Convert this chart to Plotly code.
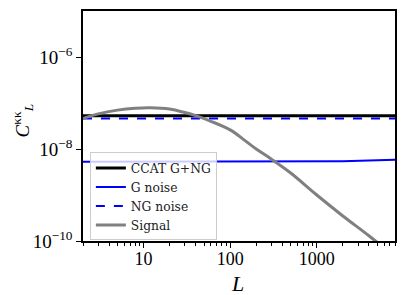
import plotly.graph_objects as go

# Data
L_noise = [2, 10, 100, 500, 1000, 2000, 4000, 8000]
ccat_total = [5.3e-8, 5.3e-8, 5.3e-8, 5.3e-8, 5.3e-8, 5.3e-8, 5.3e-8, 5.3e-8]
g_noise = [5.3e-9, 5.3e-9, 5.3e-9, 5.3e-9, 5.32e-9, 5.45e-9, 5.62e-9, 5.85e-9]
ng_noise = [4.6e-8, 4.6e-8, 4.6e-8, 4.6e-8, 4.6e-8, 4.6e-8, 4.6e-8, 4.6e-8]

L_signal = [2, 3, 5, 8, 12, 20, 30, 40, 60, 100, 150, 200, 300, 500, 1000, 2000, 4000, 8000]
signal = [4.6e-8, 5.8e-8, 7.0e-8, 7.7e-8, 7.9e-8, 7.4e-8, 6.2e-8, 5.3e-8, 4.0e-8,
          2.6e-8, 1.5e-8, 1.0e-8, 6.0e-9, 3.0e-9, 1.0e-9, 3.5e-10, 1.3e-10, 4.5e-11]

x_tickvals = [10, 100, 1000]
x_ticktext = ["10", "100", "1000"]
y_tickvals = [1e-6, 1e-8, 1e-10]
y_ticktext = ["10<sup>−6</sup>", "10<sup>−8</sup>", "10<sup>−10</sup>"]

FONT = "Liberation Serif"

fig = go.Figure()
fig.add_trace(go.Scatter(x=L_noise, y=ccat_total, mode="lines", name="CCAT G+NG",
                         line=dict(color="black", width=3)))
fig.add_trace(go.Scatter(x=L_noise, y=g_noise, mode="lines", name="G noise",
                         line=dict(color="#0000ff", width=2)))
fig.add_trace(go.Scatter(x=L_noise, y=ng_noise, mode="lines", name="NG noise",
                         line=dict(color="#0000ff", width=2, dash="dash")))
fig.add_trace(go.Scatter(x=L_signal, y=signal, mode="lines", name="Signal",
                         line=dict(color="#808080", width=3), line_shape="spline"))

fig.update_layout(
    width=399, height=287,
    margin=dict(l=75, r=12, t=3, b=54),
    paper_bgcolor="white", plot_bgcolor="white",
    font=dict(family=FONT, color="black", size=18),
    showlegend=True,
    legend=dict(x=0.022, y=0.385, xanchor="left", yanchor="top",
                bgcolor="rgba(255,255,255,0.8)", bordercolor="#cccccc", borderwidth=1,
                font=dict(family="DejaVu Serif", size=12.3, color="#222222"), tracegroupgap=0),
    annotations=[
        dict(text="<i>L</i>", xref="paper", yref="paper", x=0.495, y=-0.185,
             xanchor="center", yanchor="middle", showarrow=False, font=dict(size=22)),
        dict(text="<i>C</i><sup>κκ</sup><sub><i>L</i></sub>", xref="paper", yref="paper",
             x=-0.195, y=0.525, xanchor="center", yanchor="middle", showarrow=False,
             textangle=-90, font=dict(size=19)),
    ],
)
fig.update_xaxes(type="log", range=[0.301, 3.903], automargin=False,
                 tickvals=x_tickvals, ticktext=x_ticktext, ticklabelstandoff=-4,
                 ticks="outside", ticklen=5, tickwidth=1.2, tickcolor="black",
                 minor=dict(ticks="outside", ticklen=3, tickwidth=0.8, tickcolor="black",
                            tickvals=[2,3,4,5,6,7,8,9,20,30,40,50,60,70,80,90,
                                      200,300,400,500,600,700,800,900,2000,3000,4000,5000,6000,7000,8000]),
                 showline=True, linecolor="black", linewidth=1.5, mirror=True,
                 showgrid=False, zeroline=False)
fig.update_yaxes(type="log", range=[-10, -5], automargin=False,
                 tickvals=y_tickvals, ticktext=y_ticktext, tickfont=dict(size=19),
                 ticks="outside", ticklen=5, tickwidth=1.2, tickcolor="black",
                 showline=True, linecolor="black", linewidth=1.5, mirror=True,
                 showgrid=False, zeroline=False)

fig.write_html("out.html")
